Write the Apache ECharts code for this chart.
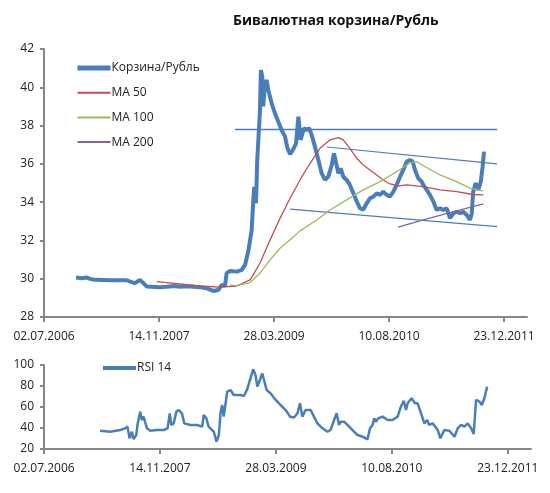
<!DOCTYPE html>
<html>
<head>
<meta charset="utf-8">
<script src="https://cdn.jsdelivr.net/npm/echarts@6/dist/echarts.min.js"></script>
<style>
  html, body { margin: 0; padding: 0; background: #fff; }
  #chart { width: 550px; height: 493px; }
</style>
</head>
<body>
<div id="chart"></div>
<script>
// x values are days counted from 02.07.2006
const START = Date.UTC(2006, 6, 2);

const basketDays = [139, 164, 186, 200, 222, 287, 360, 381, 396, 404, 417, 432, 447, 504, 533, 570, 591, 620, 678, 707,
  736, 758, 773, 787, 794, 809, 838, 860, 874, 888, 903, 910, 914, 922, 927, 932, 939, 943, 949, 953,
  961, 968, 975, 990, 1004, 1019, 1033, 1048, 1058, 1070, 1084, 1096, 1106, 1116, 1130, 1142, 1153, 1164, 1178, 1193,
  1207, 1222, 1236, 1251, 1261, 1270, 1280, 1290, 1301, 1316, 1330, 1345, 1360, 1374, 1388, 1403, 1417, 1432, 1447, 1461,
  1475, 1490, 1504, 1519, 1533, 1548, 1562, 1577, 1591, 1603, 1613, 1627, 1642, 1649, 1664, 1678, 1693, 1707, 1722, 1736,
  1751, 1765, 1780, 1794, 1809, 1823, 1838, 1852, 1860, 1866, 1877, 1888, 1899, 1907, 1913];
const basketValues = [30.06, 30.03, 30.06, 29.99, 29.94, 29.92, 29.92, 29.82, 29.77, 29.85, 29.94, 29.77, 29.59, 29.56, 29.58, 29.62, 29.58, 29.6, 29.56, 29.5,
  29.36, 29.41, 29.68, 29.62, 30.29, 30.4, 30.37, 30.46, 30.72, 31.42, 32.55, 34.1, 34.8, 33.94, 36.2, 37.25, 38.8, 40.9, 40.55, 39.0,
  40.2, 40.38, 39.86, 39.16, 38.64, 38.2, 37.77, 37.42, 36.85, 36.5, 36.77, 37.07, 38.47, 37.25, 37.86, 37.77, 37.86, 37.5, 36.9, 36.2,
  35.51, 35.16, 35.33, 35.94, 36.55, 36.03, 35.51, 35.77, 35.33, 35.16, 34.9, 34.46, 34.03, 33.68, 33.6, 33.94, 34.2, 34.29, 34.46, 34.38,
  34.55, 34.38, 34.29, 34.55, 34.9, 35.33, 35.68, 36.12, 36.2, 36.12, 35.68, 35.25, 35.07, 34.9, 34.64, 34.38, 34.03, 33.59, 33.68, 33.59,
  33.68, 33.16, 33.42, 33.5, 33.42, 33.5, 33.33, 33.07, 33.42, 34.55, 34.99, 34.64, 35.07, 35.85, 36.64];

const ma50Days = [490, 678, 765, 838, 896, 939, 983, 1026, 1070, 1113, 1157, 1200, 1243, 1280, 1301, 1330, 1360, 1388, 1417, 1447,
  1475, 1504, 1541, 1577, 1649, 1722, 1794, 1866, 1910];
const ma50Values = [29.85, 29.62, 29.56, 29.62, 29.94, 30.81, 32.03, 33.15, 34.2, 35.16, 36.03, 36.81, 37.25, 37.37, 37.25, 36.81, 36.29, 35.94, 35.68, 35.42,
  35.16, 34.95, 34.85, 34.9, 34.81, 34.64, 34.55, 34.4, 34.38];

const ma100Days = [809, 838, 896, 939, 983, 1026, 1070, 1113, 1186, 1243, 1316, 1388, 1461, 1545, 1591, 1620, 1649, 1722, 1794, 1852, 1910];
const ma100Values = [29.66, 29.64, 29.8, 30.29, 30.98, 31.59, 32.03, 32.5, 33.07, 33.59, 34.12, 34.64, 35.07, 35.68, 36.05, 36.12, 35.9, 35.42, 35.07, 34.73, 34.58];

const ma200Days = [1540, 1649, 1765, 1910];
const ma200Values = [32.69, 33.07, 33.45, 33.91];

const levelDays = [830, 1970];
const levelValues = [37.8, 37.8];
const upperDays = [1230, 1970];
const upperValues = [36.88, 36.0];
const lowerDays = [1070, 1970];
const lowerValues = [33.64, 32.72];

const rsiDays = [242, 285, 329, 350, 360, 369, 379, 386, 398, 403, 415, 422, 429, 444, 458, 487, 516, 533, 542, 549,
  559, 571, 581, 595, 605, 631, 660, 682, 689, 700, 710, 718, 732, 744, 754, 761, 768, 775, 790, 804,
  818, 847, 862, 876, 888, 902, 912, 920, 931, 941, 948, 960, 977, 999, 1020, 1042, 1061, 1078, 1093, 1104,
  1114, 1128, 1150, 1164, 1179, 1201, 1222, 1236, 1251, 1262, 1272, 1280, 1294, 1316, 1337, 1352, 1374, 1395, 1406, 1417,
  1424, 1431, 1441, 1460, 1482, 1503, 1525, 1539, 1551, 1561, 1568, 1585, 1600, 1611, 1626, 1640, 1652, 1661, 1676, 1698,
  1709, 1726, 1748, 1770, 1784, 1799, 1813, 1827, 1842, 1853, 1863, 1878, 1888, 1899, 1911];
const rsiValues = [37.4, 36.5, 38.1, 39.7, 41.3, 30.2, 36.5, 29.5, 33.3, 42.9, 55.6, 47.6, 50.8, 39.7, 37.4, 38.1, 38.1, 39.7, 54.0, 42.9,
  44.4, 55.6, 57.1, 54.0, 44.4, 42.9, 42.9, 41.3, 52.4, 49.2, 41.3, 39.7, 36.5, 27.0, 33.3, 54.0, 61.9, 50.8, 74.6, 76.2,
  71.4, 71.4, 70.5, 76.8, 85.7, 95.9, 90.5, 79.4, 85.7, 92.1, 91.0, 76.2, 73.0, 66.7, 61.9, 57.1, 50.8, 50.0, 54.0, 63.5,
  50.8, 57.1, 57.1, 50.8, 44.4, 39.7, 36.5, 38.1, 47.6, 54.0, 42.9, 46.0, 46.0, 41.3, 36.5, 33.3, 31.7, 29.2, 39.7, 42.9,
  49.2, 46.0, 49.2, 50.8, 47.6, 47.6, 50.8, 60.3, 66.0, 57.1, 63.5, 68.3, 63.5, 63.5, 54.0, 44.4, 47.6, 42.9, 44.4, 38.1,
  30.2, 38.1, 37.4, 31.7, 39.7, 42.9, 41.3, 44.4, 39.7, 34.3, 66.7, 65.1, 61.9, 68.3, 79.4];

const zip = (xs, ys) => xs.map((x, i) => [x, ys[i]]);

const FONT = 'Open Sans';
const AXIS_COLOR = '#868686';
const BLUE = '#4a7ebb';

const dateLabel = (v) => {
  if (v % 500 !== 0) return '';
  const d = new Date(START + v * 86400000);
  const p = (n) => String(n).padStart(2, '0');
  return `${p(d.getUTCDate())}.${p(d.getUTCMonth() + 1)}.${d.getUTCFullYear()}`;
};

const xAxisBase = (gridIndex) => ({
  type: 'value',
  gridIndex,
  min: 0,
  max: 2100,
  interval: 500,
  axisLine: { lineStyle: { color: AXIS_COLOR, width: 2 } },
  axisTick: { length: 5, lineStyle: { color: AXIS_COLOR, width: 2 } },
  axisLabel: {
    formatter: dateLabel,
    margin: 14,
    color: '#222',
    fontFamily: FONT,
    fontSize: 12,
    showMaxLabel: false
  },
  splitLine: { show: false }
});

const yAxisBase = (gridIndex, min, max, interval) => ({
  type: 'value',
  gridIndex,
  min,
  max,
  interval,
  axisLine: { show: true, lineStyle: { color: AXIS_COLOR, width: 2 } },
  axisTick: { show: true, length: 4, lineStyle: { color: AXIS_COLOR, width: 2 } },
  axisLabel: { color: '#222', fontFamily: FONT, fontSize: 12, margin: 10 },
  splitLine: { show: false }
});

const lineSeries = (name, data, color, width, gridIndex) => ({
  name,
  type: 'line',
  data,
  xAxisIndex: gridIndex,
  yAxisIndex: gridIndex,
  symbol: 'none',
  smooth: false,
  lineStyle: { color, width },
  itemStyle: { color },
  silent: true
});

const legendText = { fontFamily: FONT, fontSize: 12, color: '#222', padding: [0, 0, 0, -4] };

const chartOption = {
  animation: false,
  backgroundColor: '#fff',
  title: {
    text: 'Бивалютная корзина/Рубль',
    left: 228,
    top: 9,
    textStyle: { fontFamily: FONT, fontSize: 14, fontWeight: 'bold', color: '#111' }
  },
  legend: [
    {
      data: [
        { name: 'Корзина/Рубль', lineStyle: { width: 5 } },
        { name: 'MA 50', lineStyle: { width: 2 } },
        { name: 'MA 100', lineStyle: { width: 2 } },
        { name: 'MA 200', lineStyle: { width: 2 } }
      ],
      orient: 'vertical',
      left: 75,
      top: 62,
      padding: 0,
      itemWidth: 33,
      itemHeight: 14,
      itemGap: 12.7,
      itemStyle: { opacity: 0 },
      textStyle: legendText
    },
    {
      data: [{ name: 'RSI 14', lineStyle: { width: 4 } }],
      left: 101,
      top: 362,
      padding: 0,
      itemWidth: 33,
      itemHeight: 14,
      itemStyle: { opacity: 0 },
      textStyle: legendText
    }
  ],
  grid: [
    { left: 44, right: 23, top: 49, height: 268 },
    { left: 44, right: 19, top: 365, height: 84 }
  ],
  xAxis: [xAxisBase(0), xAxisBase(1)],
  yAxis: [yAxisBase(0, 28, 42, 2), yAxisBase(1, 20, 100, 20)],
  series: [
    lineSeries('Корзина/Рубль', zip(basketDays, basketValues), BLUE, 4, 0),
    lineSeries('level', zip(levelDays, levelValues), BLUE, 1.5, 0),
    lineSeries('upper', zip(upperDays, upperValues), BLUE, 1.2, 0),
    lineSeries('lower', zip(lowerDays, lowerValues), BLUE, 1.2, 0),
    lineSeries('MA 50', zip(ma50Days, ma50Values), '#c0504d', 1.3, 0),
    lineSeries('MA 100', zip(ma100Days, ma100Values), '#9bbb59', 1.3, 0),
    lineSeries('MA 200', zip(ma200Days, ma200Values), '#8064a2', 1.3, 0),
    lineSeries('RSI 14', zip(rsiDays, rsiValues), BLUE, 2.5, 1)
  ]
};

const chartInstance = echarts.init(document.getElementById('chart'), null, { renderer: 'canvas' });
chartInstance.setOption(chartOption);
</script>
</body>
</html>
